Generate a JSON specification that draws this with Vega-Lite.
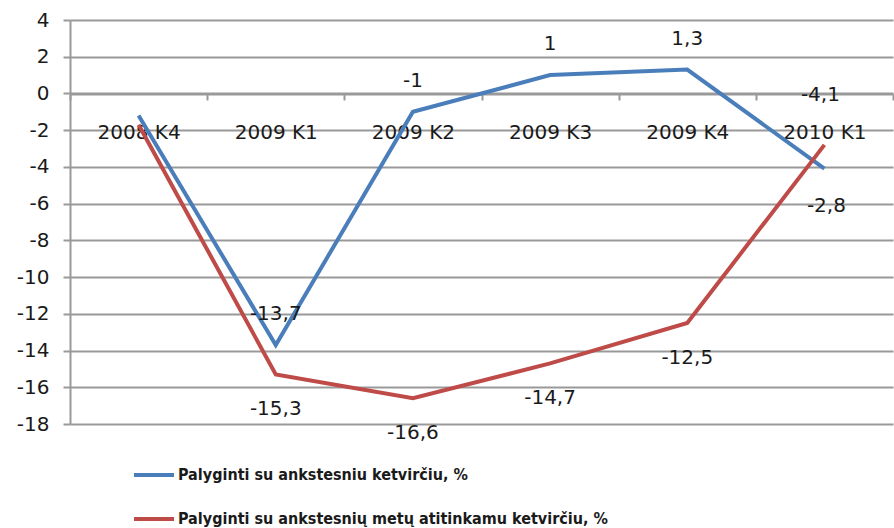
{
  "$schema": "https://vega.github.io/schema/vega-lite/v6.json",
  "width": 823,
  "height": 404,
  "autosize": {"type": "none"},
  "padding": {"left": 70, "top": 20, "right": 1, "bottom": 104},
  "background": "white",
  "config": {
    "locale": {"number": {"decimal": ",", "thousands": " ", "grouping": [3], "currency": ["", " €"], "minus": "-"}},
    "view": {"stroke": null},
    "font": "DejaVu Sans"
  },
  "data": {
    "values": [
      {"q": "2008 K4", "s": "Palyginti su ankstesniu ketvirčiu, %", "v": -1.2},
      {"q": "2009 K1", "s": "Palyginti su ankstesniu ketvirčiu, %", "v": -13.7},
      {"q": "2009 K2", "s": "Palyginti su ankstesniu ketvirčiu, %", "v": -1},
      {"q": "2009 K3", "s": "Palyginti su ankstesniu ketvirčiu, %", "v": 1},
      {"q": "2009 K4", "s": "Palyginti su ankstesniu ketvirčiu, %", "v": 1.3},
      {"q": "2010 K1", "s": "Palyginti su ankstesniu ketvirčiu, %", "v": -4.1},
      {"q": "2008 K4", "s": "Palyginti su ankstesnių metų atitinkamu ketvirčiu, %", "v": -1.7},
      {"q": "2009 K1", "s": "Palyginti su ankstesnių metų atitinkamu ketvirčiu, %", "v": -15.3},
      {"q": "2009 K2", "s": "Palyginti su ankstesnių metų atitinkamu ketvirčiu, %", "v": -16.6},
      {"q": "2009 K3", "s": "Palyginti su ankstesnių metų atitinkamu ketvirčiu, %", "v": -14.7},
      {"q": "2009 K4", "s": "Palyginti su ankstesnių metų atitinkamu ketvirčiu, %", "v": -12.5},
      {"q": "2010 K1", "s": "Palyginti su ankstesnių metų atitinkamu ketvirčiu, %", "v": -2.8}
    ]
  },
  "encoding": {
    "x": {
      "field": "q", "type": "nominal", "sort": null,
      "scale": {"type": "band", "paddingInner": 0, "paddingOuter": 0},
      "axis": {
        "title": null, "orient": "bottom", "offset": -330,
        "labelAngle": 0, "labelFontSize": 20, "labelColor": "#1a1a1a", "labelFont": "DejaVu Sans",
        "domainColor": "#999999", "domainWidth": 2,
        "tickColor": "#999999", "tickWidth": 2, "tickSize": 6, "tickBand": "extent",
        "labelPadding": 22, "grid": false
      }
    },
    "y": {
      "field": "v", "type": "quantitative",
      "scale": {"domain": [-18, 4], "nice": false, "zero": false},
      "axis": {
        "title": null, "values": [-18, -16, -14, -12, -10, -8, -6, -4, -2, 0, 2, 4],
        "labelFontSize": 20, "labelColor": "#1a1a1a", "labelFont": "DejaVu Sans",
        "domainColor": "#999999", "domainWidth": 2,
        "tickColor": "#999999", "tickWidth": 2, "tickSize": 7, "labelPadding": 14,
        "grid": true, "gridColor": "#999999", "gridWidth": 2
      }
    }
  },
  "layer": [
    {
      "mark": {"type": "line", "strokeWidth": 4},
      "encoding": {
        "color": {
          "field": "s", "type": "nominal",
          "scale": {
            "domain": ["Palyginti su ankstesniu ketvirčiu, %", "Palyginti su ankstesnių metų atitinkamu ketvirčiu, %"],
            "range": ["#4a7ebb", "#be4b48"]
          },
          "legend": {
            "title": null, "orient": "none", "legendX": 62, "legendY": 433, "direction": "vertical",
            "symbolType": "stroke", "symbolSize": 1600, "symbolStrokeWidth": 4,
            "labelFont": "DejaVu Sans Condensed", "labelFontSize": 16, "labelFontWeight": "bold", "labelColor": "#1a1a1a",
            "labelOffset": 2, "rowPadding": 14, "padding": 0, "labelLimit": 800
          }
        }
      }
    },
    {
      "transform": [{"filter": "datum.q != '2008 K4' && datum.q != '2010 K1' && datum.s == 'Palyginti su ankstesniu ketvirčiu, %'"}],
      "mark": {"type": "text", "dy": -31, "fontSize": 20, "color": "#1a1a1a", "font": "DejaVu Sans"},
      "encoding": {"text": {"field": "v", "type": "quantitative", "format": ".1~f"}}
    },
    {
      "transform": [{"filter": "datum.q != '2008 K4' && datum.q != '2010 K1' && datum.s != 'Palyginti su ankstesniu ketvirčiu, %'"}],
      "mark": {"type": "text", "dy": 35, "fontSize": 20, "color": "#1a1a1a", "font": "DejaVu Sans"},
      "encoding": {"text": {"field": "v", "type": "quantitative", "format": ".1~f"}}
    },
    {
      "transform": [{"filter": "datum.q == '2010 K1' && datum.s == 'Palyginti su ankstesniu ketvirčiu, %'"}],
      "mark": {"type": "text", "dy": -74, "dx": -4, "fontSize": 20, "color": "#1a1a1a", "font": "DejaVu Sans"},
      "encoding": {"text": {"field": "v", "type": "quantitative", "format": ".1~f"}}
    },
    {
      "transform": [{"filter": "datum.q == '2010 K1' && datum.s != 'Palyginti su ankstesniu ketvirčiu, %'"}],
      "mark": {"type": "text", "dy": 61, "dx": 2, "fontSize": 20, "color": "#1a1a1a", "font": "DejaVu Sans"},
      "encoding": {"text": {"field": "v", "type": "quantitative", "format": ".1~f"}}
    }
  ]
}
